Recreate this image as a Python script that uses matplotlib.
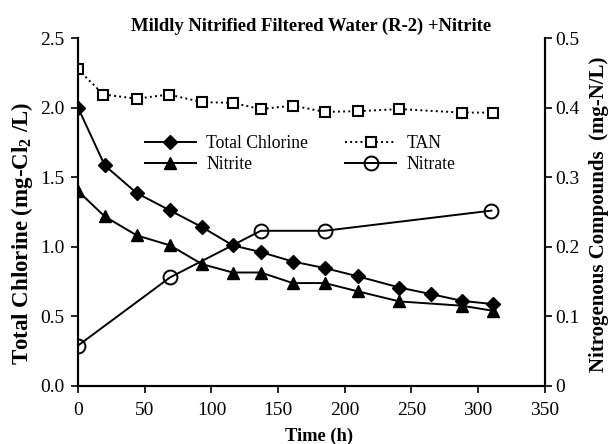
import matplotlib
matplotlib.use('Agg')
import matplotlib.pyplot as plt
import numpy as np

plt.rcParams['font.family'] = ['Liberation Serif', 'DejaVu Serif']
plt.rcParams['mathtext.default'] = 'regular'

# data
t_cl = [0, 20, 44, 69, 93, 116, 137, 161, 185, 210, 241, 265, 288, 311]
chlorine = [2.0, 1.585, 1.386, 1.261, 1.141, 1.01, 0.962, 0.894, 0.847, 0.787, 0.707, 0.659, 0.611, 0.588]

t_no2 = [0, 20, 44, 69, 93, 116, 137, 161, 185, 210, 241, 288, 311]
nitrite = [1.4, 1.218, 1.082, 1.01, 0.875, 0.815, 0.815, 0.739, 0.739, 0.679, 0.607, 0.576, 0.54]

t_tan = [0, 19, 44, 68, 93, 116, 137, 161, 185, 210, 241, 288, 311]
tan = [0.455, 0.419, 0.413, 0.419, 0.408, 0.407, 0.398, 0.403, 0.394, 0.395, 0.398, 0.393, 0.393]

t_no3 = [0, 69, 137, 185, 310]
nitrate = [0.058, 0.156, 0.223, 0.223, 0.252]

fig = plt.figure(figsize=(6.1, 4.44), dpi=100)
ax = fig.add_axes([0.128, 0.131, 0.765, 0.783])
ax2 = ax.twinx()

h1, = ax.plot(t_cl, chlorine, '-', color='black', lw=1.4, marker='D', ms=7, mfc='black')
h2, = ax.plot(t_no2, nitrite, '-', color='black', lw=1.4, marker='^', ms=8.5, mfc='black')
h3, = ax2.plot(t_tan, tan, ':', color='black', lw=1.4, marker='s', ms=7, mfc='white', mew=1.5)
h4, = ax2.plot(t_no3, nitrate, '-', color='black', lw=1.4, marker='o', ms=10, mfc='none', mew=1.4)

ax.set_xlim(0, 350)
ax.set_ylim(0, 2.5)
ax2.set_ylim(0, 0.5)
ax.set_xticks(np.arange(0, 351, 50))
ax.set_yticks(np.arange(0, 2.51, 0.5))
ax.set_yticklabels(['%.1f' % v for v in np.arange(0, 2.51, 0.5)])
ax2.set_yticks([0, 0.1, 0.2, 0.3, 0.4, 0.5])
ax2.set_yticklabels(['0', '0.1', '0.2', '0.3', '0.4', '0.5'])

for a in (ax, ax2):
    a.tick_params(direction='out', length=4.8, width=1.2, labelsize=14)
    for s in a.spines.values():
        s.set_linewidth(1.5)
ax.tick_params(axis='y', pad=4.8)
ax.tick_params(axis='x', pad=6.5)
ax2.tick_params(axis='y', pad=3)
ax.spines['top'].set_visible(False)
ax2.spines['top'].set_visible(False)

fig.text(319 / 610, 1 - 436 / 444, 'Time (h)', fontsize=13.3, fontweight='bold',
         ha='center', va='center')
fig.text(22.5 / 610, 1 - 233 / 444, r'Total Chlorine (mg-Cl$_2$ /L)', fontsize=16.5, fontweight='bold',
         rotation=90, ha='center', va='center')
fig.text(599 / 610, 1 - 214 / 444, 'Nitrogenous Compounds  (mg-N/L)', fontsize=15,
         fontweight='bold', rotation=90, ha='center', va='center')
ax.set_title('Mildly Nitrified Filtered Water (R-2) +Nitrite', fontsize=13.4, fontweight='bold', pad=5)

ax.legend([h1, h2, h3, h4], ['Total Chlorine', 'Nitrite', 'TAN', 'Nitrate'], ncol=2,
          frameon=False, fontsize=12.7, handlelength=2.9, handletextpad=0.57,
          labelspacing=0.2, columnspacing=2.1,
          loc='upper left', bbox_to_anchor=(0.109, 0.766))

fig.savefig('out.png', dpi=100)
